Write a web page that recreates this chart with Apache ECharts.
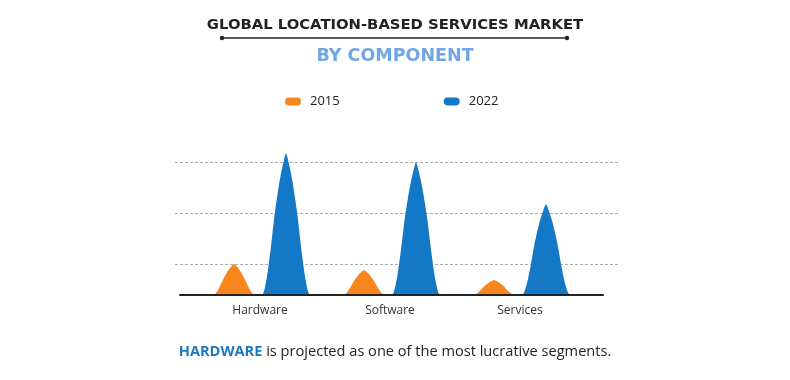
<!DOCTYPE html>
<html><head><meta charset="utf-8">
<script src="https://cdn.jsdelivr.net/npm/echarts@6/dist/echarts.min.js"></script>
<style>html,body{margin:0;padding:0;background:#fff}#c{width:790px;height:380px}</style>
</head><body><div id="c"></div>
<script>
const categories = ['Hardware', 'Software', 'Services'];
const seriesNames = ['2015', '2022'];
const values2015 = [31, 25, 15];
const values2022 = [142, 133, 91];
const gridTicks = [0, 1, 2];

const peak = 'path://M0,100 L2,99.3 L4,97.5 L6,95 L8,91.5 L10.5,87 L13.5,80 L18,68 L22,56 L26,44 L31,32 L36,21 L41,12 L45,6 L47.5,2.5 L49,0.8 L50,0 L51,0.8 L52.5,2.5 L55,6 L59,12 L64,21 L69,32 L74,44 L78,56 L82,68 L86.5,80 L89.5,87 L92,91.5 L94,95 L96,97.5 L98,99.3 L100,100 Z';
const pill = 'path://M5,0 H15 A5,5 0 0 1 15,10 H5 A5,5 0 0 1 5,0 Z';
const orange = '#F7861E';
const blue = '#1379C6';

const chart = echarts.init(document.getElementById('c'));
chart.setOption({
  animation: false,
  backgroundColor: '#fff',
  title: [{
    text: 'GLOBAL LOCATION-BASED SERVICES MARKET',
    left: 'center', top: 13,
    textStyle: {fontFamily: 'DejaVu Sans', fontWeight: 'bold', fontSize: 14.8, color: '#222'}
  }, {
    text: 'BY COMPONENT',
    left: 'center', top: 42,
    textStyle: {fontFamily: 'DejaVu Sans', fontWeight: 'bold', fontSize: 17.5, color: '#6FA6E3'}
  }],
  legend: {
    left: 280, top: 90,
    itemWidth: 16, itemHeight: 9, itemGap: 104,
    data: seriesNames.map(n => ({name: n, icon: pill})),
    textStyle: {fontFamily: 'Open Sans', fontSize: 13, color: '#222', padding: [0, 0, 0, 4]}
  },
  graphic: [
    {type: 'line', shape: {x1: 222, y1: 38, x2: 567, y2: 38}, style: {stroke: '#222', lineWidth: 1.3}},
    {type: 'circle', shape: {cx: 222, cy: 38, r: 2.2}, style: {fill: '#222'}},
    {type: 'circle', shape: {cx: 567, cy: 38, r: 2.2}, style: {fill: '#222'}},
    {type: 'text', left: 'center', top: 344, style: {
      rich: {
        b: {fontFamily: 'Open Sans', fontWeight: 'bold', fontSize: 14.6, fill: '#1F78BD'},
        n: {fontFamily: 'Open Sans', fontSize: 14.6, fill: '#222'}
      },
      text: '{b|HARDWARE}{n| is projected as one of the most lucrative segments.}'
    }}
  ],
  grid: [
    {left: 195, right: 205, top: 145, bottom: 85},
    {left: 175, right: 170, top: 162, bottom: 116},
    {left: 180, right: 187, top: 200, bottom: 85}
  ],
  xAxis: [
    {gridIndex: 0, type: 'category', data: categories,
     axisLine: {show: false}, axisTick: {show: false},
     axisLabel: {margin: 10, fontFamily: 'Open Sans', fontSize: 12, color: '#333'}},
    {gridIndex: 1, type: 'value', show: false, min: 0, max: 1},
    {gridIndex: 2, type: 'category', data: categories, z: 10,
     axisLine: {show: true, lineStyle: {color: '#222', width: 2}},
     axisTick: {show: false}, axisLabel: {show: false}}
  ],
  yAxis: [
    {gridIndex: 0, type: 'value', min: 0, max: 150, show: false},
    {gridIndex: 1, type: 'value', min: gridTicks[0], max: gridTicks[gridTicks.length - 1], interval: 1,
     axisLine: {show: false}, axisTick: {show: false}, axisLabel: {show: false},
     splitLine: {show: true, lineStyle: {color: '#aaa', type: [3, 2], width: 1}}},
    {gridIndex: 2, type: 'value', show: false}
  ],
  series: [
    {name: seriesNames[0], type: 'pictorialBar', xAxisIndex: 0, yAxisIndex: 0,
     symbol: peak, symbolSize: [42, '100%'], barWidth: 46, barGap: '13%',
     itemStyle: {color: orange}, data: values2015, z: 3},
    {name: seriesNames[1], type: 'pictorialBar', xAxisIndex: 0, yAxisIndex: 0,
     symbol: peak, symbolSize: [48, '100%'], barWidth: 46, barGap: '13%',
     itemStyle: {color: blue}, data: values2022, z: 3}
  ]
});
</script></body></html>
